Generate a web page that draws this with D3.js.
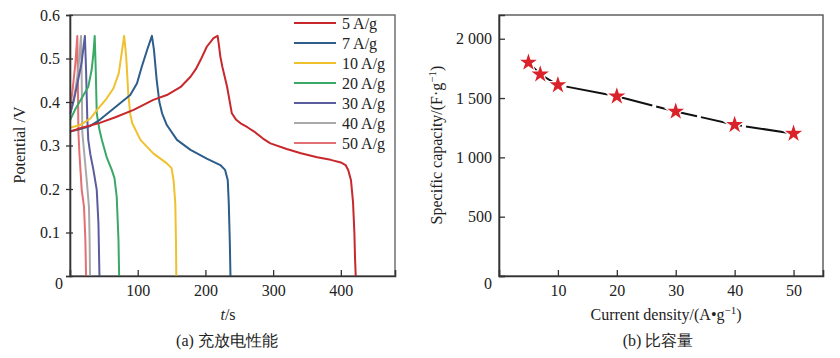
<!DOCTYPE html>
<html><head><meta charset="utf-8">
<script src="https://cdn.jsdelivr.net/npm/d3@7"></script>
<style>
html,body{margin:0;padding:0;background:#fff;}
svg text{font-family:"Liberation Serif","DejaVu Serif",serif;fill:#222;}
</style></head>
<body><svg id="c" width="840" height="358"></svg>
<script>
// ---- Data: galvanostatic charge/discharge curves [t (s), potential (V)]
const series5 = [[0,0.332],[15,0.34],[30,0.346],[44,0.352],[67,0.365],[94,0.382],[123,0.405],[143,0.416],[163,0.434],[178,0.458],[186,0.476],[193,0.497],[202,0.527],[212,0.547],[218,0.552],[220,0.53],[222,0.505],[225,0.481],[232,0.435],[239,0.374],[245,0.36],[252,0.351],[262,0.342],[272,0.332],[285,0.316],[296,0.305],[320,0.292],[341,0.282],[365,0.273],[385,0.267],[400,0.261],[407,0.255],[411,0.243],[415,0.22],[418,0.17],[420,0.1],[421,0.04],[422,0]];
const series7 = [[0,0.332],[15,0.338],[30,0.345],[44,0.359],[59,0.378],[74,0.397],[89,0.416],[99,0.443],[106,0.481],[114,0.52],[121,0.552],[124,0.52],[128,0.451],[132,0.4],[136,0.374],[143,0.347],[158,0.313],[178,0.29],[202,0.27],[222,0.255],[229,0.244],[233,0.22],[234.5,0.167],[236,0.08],[237,0]];
const series10 = [[0,0.341],[15,0.347],[30,0.362],[40,0.382],[54,0.408],[64,0.431],[72,0.466],[77,0.52],[80,0.552],[83,0.504],[86,0.42],[89,0.372],[92,0.351],[104,0.313],[123,0.282],[143,0.259],[150,0.248],[153,0.22],[155.5,0.167],[156.5,0.08],[157,0]];
const series20 = [[0,0.358],[7.4,0.382],[17,0.408],[27,0.435],[32,0.474],[34.6,0.512],[36.5,0.552],[38,0.474],[39.5,0.374],[43.5,0.336],[47,0.313],[54,0.274],[61.7,0.244],[65.7,0.225],[69,0.182],[71.6,0.083],[72.6,0]];
const series30 = [[0,0.372],[5,0.4],[10,0.435],[17,0.489],[22,0.552],[23.7,0.474],[25.6,0.359],[27,0.313],[30,0.28],[34.6,0.244],[39.5,0.198],[42,0.121],[43.5,0]];
const series40 = [[0,0.37],[6,0.41],[12,0.47],[16.3,0.552],[17.3,0.45],[18.2,0.33],[20,0.3],[24.7,0.22],[28,0.159],[29,0.08],[29.6,0]];
const series50 = [[0,0.38],[4,0.43],[8,0.49],[10.8,0.552],[11.6,0.45],[12.4,0.33],[14,0.28],[17.3,0.198],[20.7,0.159],[22.7,0.083],[23.7,0]];
const curveLabels = ["5 A/g","7 A/g","10 A/g","20 A/g","30 A/g","40 A/g","50 A/g"];
const curveColors = ["#c8282c","#2c5d8b","#f0c12f","#3aa866","#5b5c9e","#a9a9a9","#e26f73"];
const tTicks = [100,200,300,400];
const vTicks = [0,0.1,0.2,0.3,0.4,0.5,0.6];

// ---- Data: specific capacity vs current density
const currentDensity = [5,7,10,20,30,40,50];
const capacity = [1800,1700,1610,1515,1387,1275,1200];
const cdTicks = [10,20,30,40,50];
const capTicks = [0,500,1000,1500,2000];

const svg = d3.select("#c");
const FS = 16;

// ================= Left chart =================
const L = {x0:70, x1:395, y0:15, y1:276};
const xL = d3.scaleLinear().domain([0,480]).range([L.x0,L.x1]);
const yL = d3.scaleLinear().domain([0,0.6]).range([L.y1,L.y0]);
const gL = svg.append("g");

gL.append("rect").attr("x",L.x0).attr("y",L.y0).attr("width",L.x1-L.x0).attr("height",L.y1-L.y0)
  .attr("fill","none").attr("stroke","#666").attr("stroke-width",1.4);

const allSeries = [series5,series7,series10,series20,series30,series40,series50];
const lineP = d3.line().x(d=>xL(d[0])).y(d=>yL(d[1]));
allSeries.map((s,i)=>({s,i})).reverse().forEach(({s,i})=>{
  gL.append("path").attr("d",lineP(s)).attr("fill","none")
    .attr("stroke",curveColors[i]).attr("stroke-width",2).attr("stroke-linejoin","round");
});

const axXL = gL.append("g").attr("transform",`translate(0,${L.y1})`)
  .call(d3.axisBottom(xL).tickValues(tTicks).tickSize(-6).tickPadding(9).tickFormat(d3.format("d")));
const axYL = gL.append("g").attr("transform",`translate(${L.x0},0)`)
  .call(d3.axisLeft(yL).tickValues(vTicks).tickSize(4).tickPadding(6).tickFormat(d=>d===0?"0":d3.format(".1f")(d)));
[axXL,axYL].forEach(a=>{
  a.select(".domain").attr("stroke","#333").attr("stroke-width",1.6);
  a.selectAll(".tick line").attr("stroke","#333").attr("stroke-width",1.3);
  a.selectAll(".tick text").attr("font-size",FS).attr("fill","#222").attr("font-family","Liberation Serif");
});
axYL.selectAll(".tick line").attr("x1",3);
axYL.selectAll(".tick text").filter(d=>d===0).attr("dy","0.75em").attr("x",-7);

// legend
const leg = gL.append("g");
curveLabels.forEach((lab,i)=>{
  const y = 23 + i*20;
  leg.append("line").attr("x1",294).attr("x2",336).attr("y1",y).attr("y2",y)
    .attr("stroke",curveColors[i]).attr("stroke-width",2);
  leg.append("text").attr("x",342).attr("y",y).attr("dy","0.35em").attr("font-size",FS).text(lab);
});

// titles
gL.append("text").attr("transform","translate(25,145) rotate(-90)").attr("text-anchor","middle")
  .attr("font-size",FS).text("Potential /V");
const tt = gL.append("text").attr("x",228).attr("y",320).attr("text-anchor","middle").attr("font-size",FS);
tt.append("tspan").attr("font-style","italic").text("t");
tt.append("tspan").text("/s");
gL.append("text").attr("x",227).attr("y",346).attr("text-anchor","middle").attr("font-size",FS)
  .text("(a) 充放电性能");

// ================= Right chart =================
const R = {x0:499, x1:823, y0:15, y1:276};
const xR = d3.scaleLinear().domain([0,55]).range([R.x0,R.x1]);
const yR = d3.scaleLinear().domain([0,2200]).range([R.y1,R.y0]);
const gR = svg.append("g");
gR.append("rect").attr("x",R.x0).attr("y",R.y0).attr("width",R.x1-R.x0).attr("height",R.y1-R.y0)
  .attr("fill","none").attr("stroke","#555").attr("stroke-width",1.4);

const pts = currentDensity.map((c,i)=>[c,capacity[i]]);
gR.append("path").attr("d",d3.line().x(d=>xR(d[0])).y(d=>yR(d[1]))(pts))
  .attr("fill","none").attr("stroke","#111").attr("stroke-width",2).attr("stroke-dasharray","42,4");
const star = d3.symbol().type(d3.symbolStar).size(135);
gR.selectAll("path.star").data(pts).join("path").attr("class","star")
  .attr("d",star).attr("transform",d=>`translate(${xR(d[0])},${yR(d[1])})`)
  .attr("fill","#d9222a").attr("stroke","#fff").attr("stroke-width",1.2);

const fmtCap = d => d>=1000 ? d3.format(",")(d).replace(","," ") : String(d);
const axXR = gR.append("g").attr("transform",`translate(0,${R.y1})`)
  .call(d3.axisBottom(xR).tickValues(cdTicks).tickSize(-6).tickPadding(9));
const axYR = gR.append("g").attr("transform",`translate(${R.x0},0)`)
  .call(d3.axisLeft(yR).tickValues(capTicks).tickSize(-6).tickPadding(7).tickFormat(fmtCap));
[axXR,axYR].forEach(a=>{
  a.select(".domain").attr("stroke","#333").attr("stroke-width",1.6);
  a.selectAll(".tick line").attr("stroke","#333").attr("stroke-width",1.3);
  a.selectAll(".tick text").attr("font-size",FS).attr("fill","#222").attr("font-family","Liberation Serif");
});
axYR.selectAll(".tick text").filter(d=>d===0).attr("dy","0.8em");

const yt = gR.append("text").attr("transform","translate(442,145) rotate(-90)").attr("text-anchor","middle").attr("font-size",FS);
yt.append("tspan").text("Specific capacity/(F·g");
yt.append("tspan").attr("font-size",11).attr("dy",-6).text("−1");
yt.append("tspan").attr("dy",6).text(")");
const xt = gR.append("text").attr("x",666).attr("y",320).attr("text-anchor","middle").attr("font-size",FS);
xt.append("tspan").text("Current density/(A•g");
xt.append("tspan").attr("font-size",11).attr("dy",-6).text("−1");
xt.append("tspan").attr("dy",6).text(")");
gR.append("text").attr("x",658).attr("y",346).attr("text-anchor","middle").attr("font-size",FS)
  .text("(b) 比容量");
</script></body></html>
